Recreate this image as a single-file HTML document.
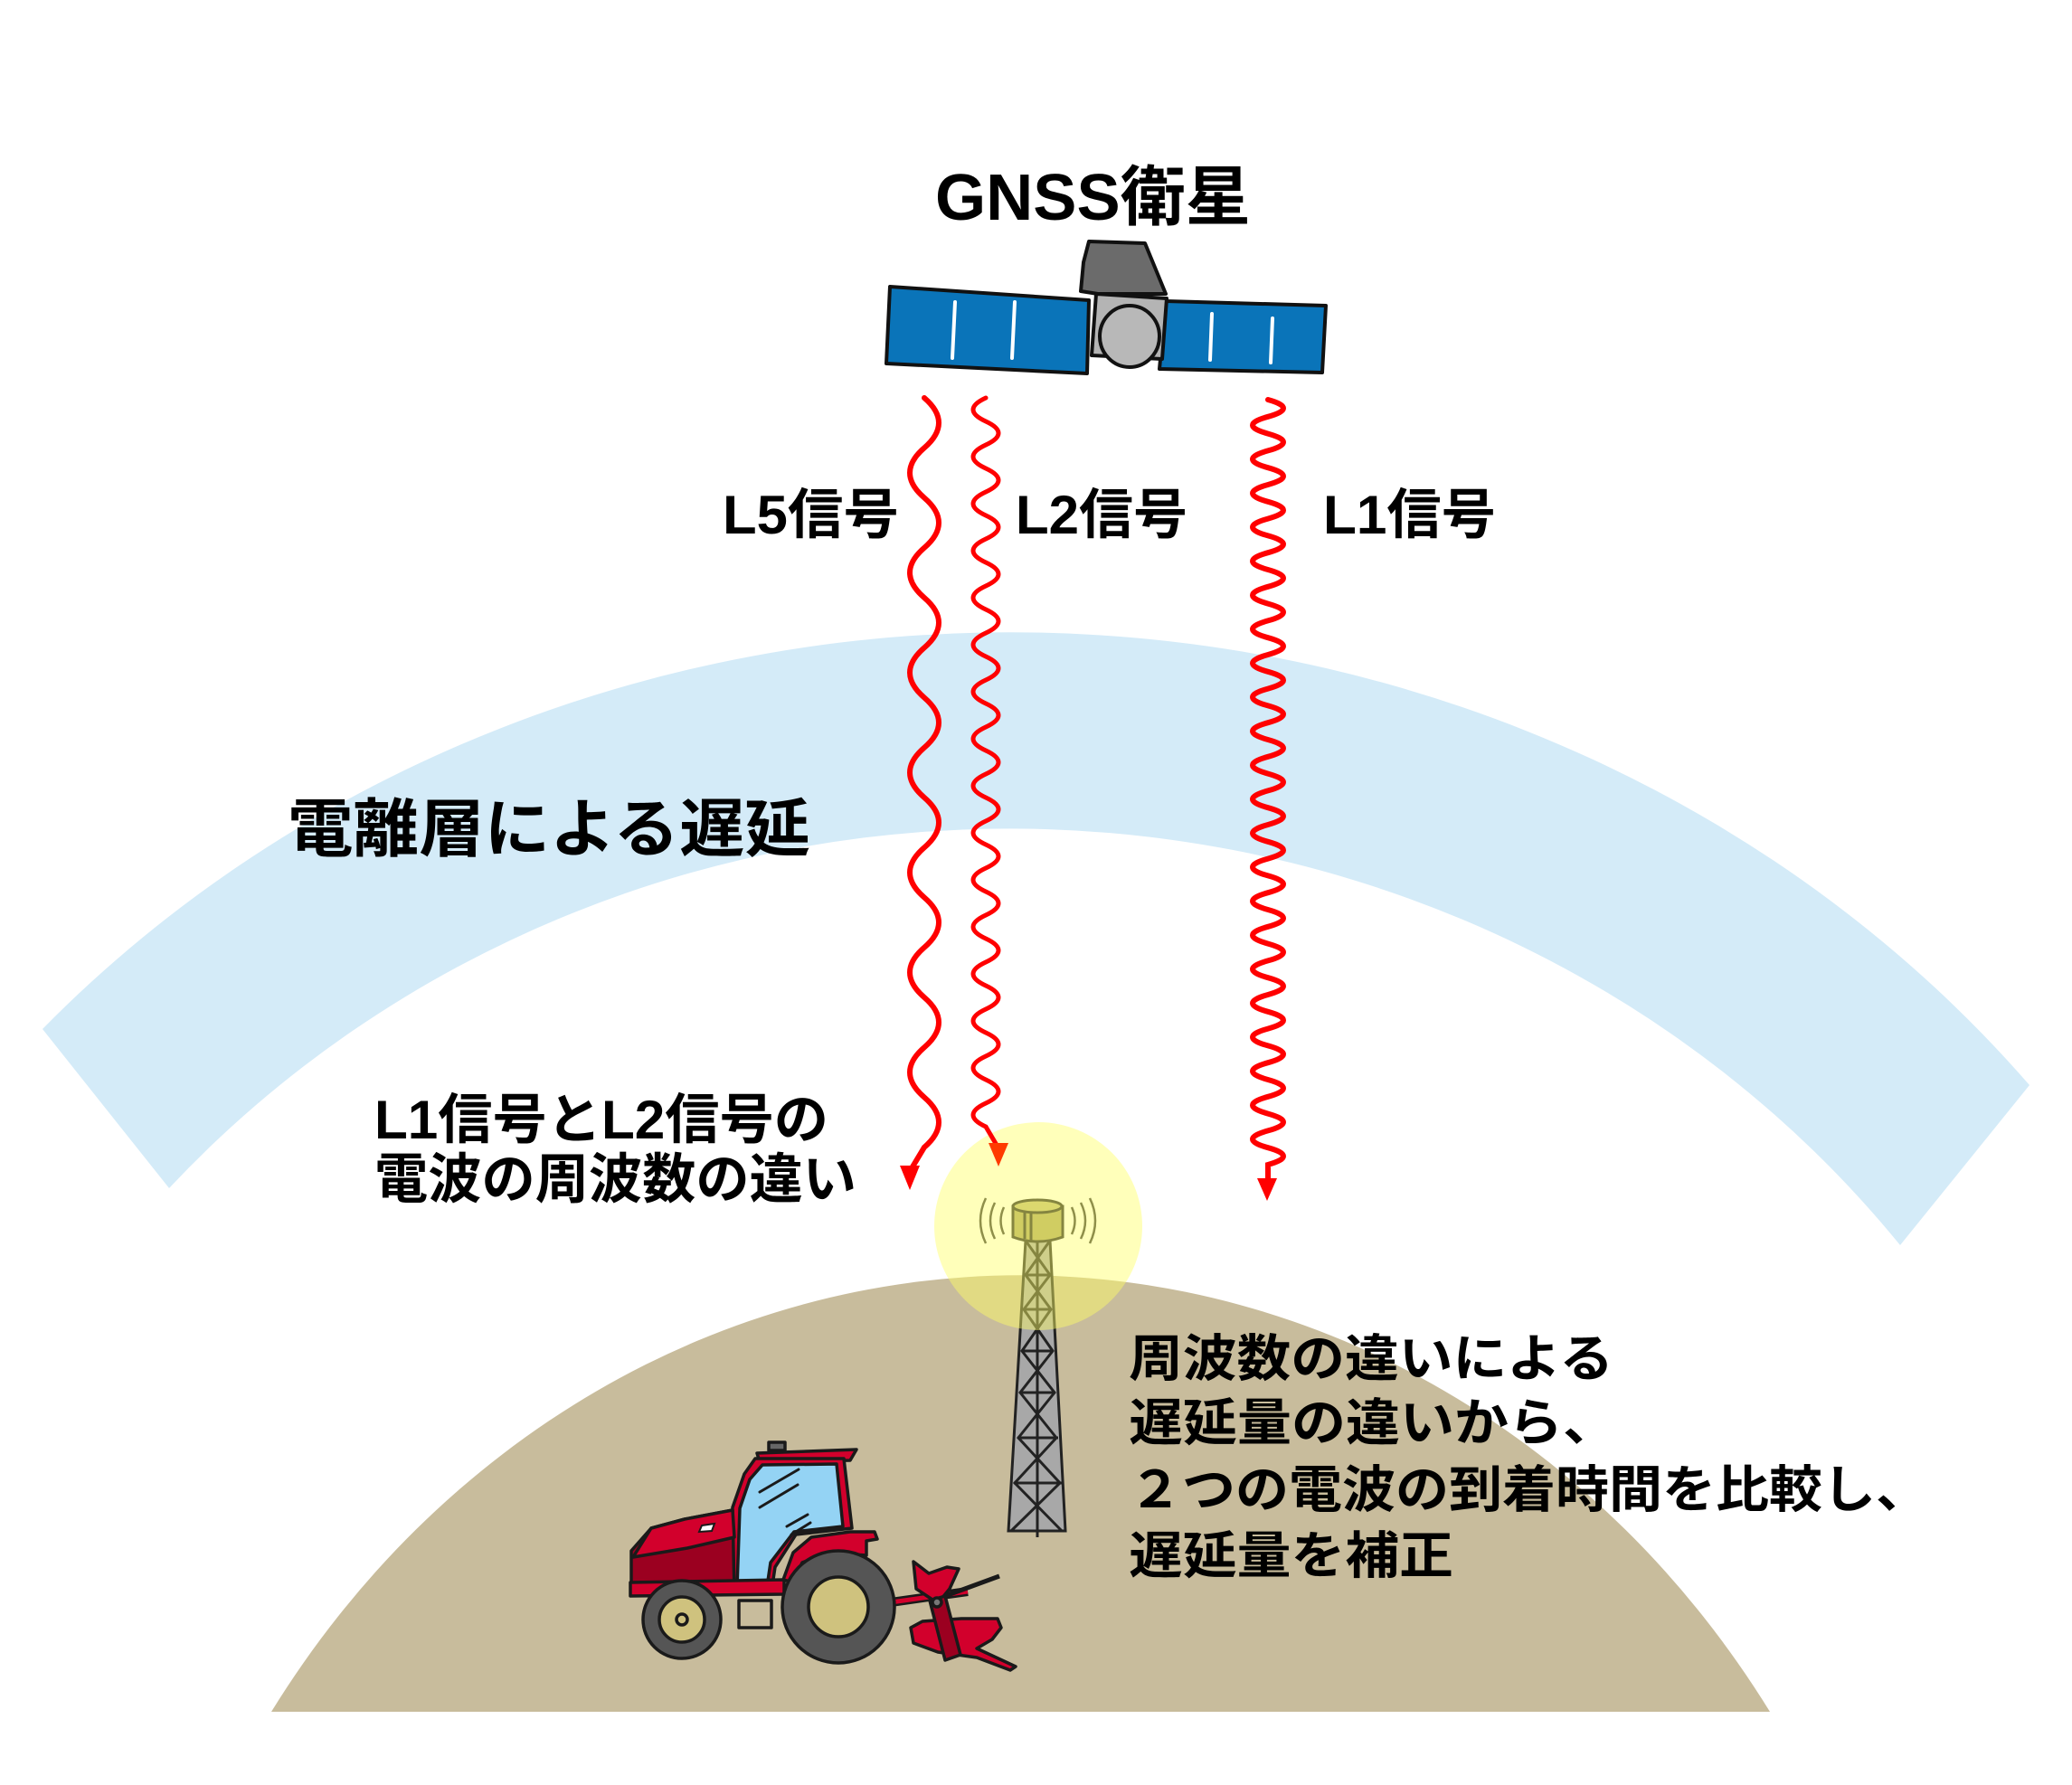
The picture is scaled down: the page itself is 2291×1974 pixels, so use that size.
<!DOCTYPE html>
<html><head><meta charset="utf-8"><style>
html,body{margin:0;padding:0;background:#fff;}
svg{display:block;}
text{font-family:"Liberation Sans","Noto Sans CJK JP",sans-serif;font-weight:bold;fill:#000;}
</style></head><body>
<svg width="2291" height="1974" viewBox="0 0 2291 1974" xmlns="http://www.w3.org/2000/svg">
<rect width="2291" height="1974" fill="#fff"/>
<!-- ionosphere band -->
<path d="M47 1138 A1450 1350 0 0 1 2244 1200 L2101 1377 A1250 1200 0 0 0 187 1314 Z" fill="#d4ebf8"/>
<!-- ground -->
<path d="M300 1893 A1000 1097 0 0 1 1957 1893 Z" fill="#c8bc9c"/>

<!-- tower -->
<g stroke="#222" stroke-width="3">
<polygon points="1134,1372 1161,1372 1178,1693 1115,1693" fill="#a8a8a8"/>
<line x1="1147" y1="1372" x2="1147" y2="1700"/>
<g fill="none">
<path d="M1134 1372 L1161 1410 L1132 1448 L1164 1494 L1128 1540 L1168 1590 L1122 1640 L1174 1693"/>
<path d="M1161 1372 L1134 1410 L1162 1448 L1130 1494 L1166 1540 L1126 1590 L1172 1640 L1118 1693"/>
<path d="M1134 1410 H1161 M1132 1448 H1162 M1130 1494 H1164 M1128 1540 H1167 M1125 1590 H1170 M1121 1640 H1174"/>
</g>
<path d="M1120 1334 L1120 1368 Q1147 1378 1175 1368 L1175 1334 Z" fill="#a9a560"/>
<ellipse cx="1147" cy="1334" rx="27" ry="7" fill="#bdb975"/>
<line x1="1133" y1="1340" x2="1133" y2="1370"/><line x1="1140" y1="1342" x2="1140" y2="1372"/>
</g>
<g fill="none" stroke="#333" stroke-width="2.5">
<path d="M1110 1335 Q1103 1350 1110 1365"/><path d="M1100 1330 Q1090 1350 1100 1370"/><path d="M1090 1325 Q1078 1350 1090 1375"/>
<path d="M1185 1335 Q1192 1350 1185 1365"/><path d="M1195 1330 Q1205 1350 1195 1370"/><path d="M1205 1325 Q1217 1350 1205 1375"/>
</g>
<!-- yellow glow -->
<circle cx="1148" cy="1356" r="115" fill="#ffff66" opacity="0.45"/>

<!-- satellite -->
<g stroke="#111" stroke-width="4" stroke-linejoin="round">
<polygon points="984,317 1204,332 1202,413 980,402" fill="#0a74b9"/>
<polygon points="1289,333 1466,338 1462,412 1282,408" fill="#0a74b9"/>
<polygon points="1204,267 1266,269 1289,325 1214,325 1195,322 1198,290" fill="#6b6b6b"/>
<polygon points="1212,325 1290,330 1285,397 1207,393" fill="#b4b4b4"/>
<ellipse cx="1249" cy="372" rx="33" ry="34" fill="#b8b8b8"/>
</g>
<g stroke="#fff" stroke-width="4" stroke-linecap="round">
<line x1="1056" y1="334" x2="1053" y2="396"/><line x1="1122" y1="334" x2="1119" y2="396"/>
<line x1="1340" y1="347" x2="1338" y2="398"/><line x1="1407" y1="352" x2="1405" y2="401"/>
</g>

<!-- waves -->
<g fill="none" stroke="#f00" stroke-linecap="round">
<path stroke-width="6" d="M1022 440 q32 27.6 0 55.25 t0 55.25 t0 55.25 t0 55.25 t0 55.25 t0 55.25 t0 55.25 t0 55.25 t0 55.25 t0 55.25 t0 55.25 t0 55.25 t0 55.25 t0 55.25 t0 55.25 L1008 1292"/>
<path stroke-width="5" d="M1090 440 q-28 13 0 26 t0 26 t0 26 t0 26 t0 26 t0 26 t0 26 t0 26 t0 26 t0 26 t0 26 t0 26 t0 26 t0 26 t0 26 t0 26 t0 26 t0 26 t0 26 t0 26 t0 26 t0 26 t0 26 t0 26 t0 26 t0 26 t0 26 t0 26 t0 26 t0 26 t0 26 L1103 1268"/>
<path stroke-width="6" d="M1402 442 q34 9.4 0 18.8 t0 18.8 t0 18.8 t0 18.8 t0 18.8 t0 18.8 t0 18.8 t0 18.8 t0 18.8 t0 18.8 t0 18.8 t0 18.8 t0 18.8 t0 18.8 t0 18.8 t0 18.8 t0 18.8 t0 18.8 t0 18.8 t0 18.8 t0 18.8 t0 18.8 t0 18.8 t0 18.8 t0 18.8 t0 18.8 t0 18.8 t0 18.8 t0 18.8 t0 18.8 t0 18.8 t0 18.8 t0 18.8 t0 18.8 t0 18.8 t0 18.8 t0 18.8 t0 18.8 t0 18.8 t0 18.8 t0 18.8 t0 18.8 t0 18.8 t0 18.8 t0 18.8 L1402 1305"/>
</g>
<polygon points="995,1289 1017,1289 1006,1316" fill="#f00"/>
<polygon points="1093,1264 1115,1264 1104,1290" fill="#ff3a00"/>
<polygon points="1390,1303 1412,1303 1401,1328" fill="#f00"/>

<!-- tractor -->
<g stroke="#1a1a1a" stroke-width="3.5" stroke-linejoin="round">
<line x1="985" y1="1772" x2="1070" y2="1760" stroke-width="10"/>
<line x1="985" y1="1772" x2="1070" y2="1760" stroke="#d2002c" stroke-width="5"/>
<line x1="1045" y1="1765" x2="1105" y2="1743" stroke-width="5"/>
<polygon points="1010,1727 1027,1740 1047,1733 1060,1735 1050,1757 1037,1773 1013,1757" fill="#d2002c"/>
<polygon points="1007,1800 1020,1793 1063,1790 1103,1790 1107,1800 1097,1813 1080,1823 1123,1843 1117,1847 1080,1833 1037,1827 1010,1817" fill="#d2002c"/>
<polygon points="1028,1770 1045,1765 1062,1830 1045,1836" fill="#9b0020"/>
<circle cx="1036" cy="1772" r="5" fill="#777"/>
<polygon points="837,1607 947,1603 940,1615 840,1617" fill="#d2002c"/>
<rect x="850" y="1595" width="18" height="9" fill="#666"/>
<polygon points="835,1613 933,1613 942,1690 880,1697 857,1733 853,1760 805,1760 810,1667 823,1630" fill="#d2002c"/>
<polygon points="843,1620 925,1619 932,1688 878,1694 852,1728 848,1755 815,1755 818,1668 829,1636" fill="#94d3f4"/>
<polygon points="698,1715 720,1690 757,1680 810,1670 812,1760 698,1763" fill="#9b0020"/>
<polygon points="720,1690 757,1680 810,1670 812,1700 760,1712 700,1722" fill="#d2002c"/>
<polygon points="697,1750 867,1747 867,1763 697,1765" fill="#d2002c"/>
<polygon points="866,1747 877,1717 897,1700 940,1694 967,1694 970,1702 958,1704 958,1720 915,1717 887,1728 877,1750" fill="#d2002c"/>
<rect x="817" y="1770" width="36" height="30" fill="none"/>
<circle cx="927" cy="1777" r="62" fill="#555"/>
<circle cx="927" cy="1777" r="33" fill="#cfc27e"/>
<circle cx="754" cy="1791" r="43" fill="#555"/>
<circle cx="754" cy="1791" r="25" fill="#cfc27e"/>
<circle cx="754" cy="1791" r="6" fill="none"/>
</g>
<g stroke="#1a1a1a" stroke-width="3" stroke-linecap="round">
<line x1="840" y1="1650" x2="883" y2="1625"/><line x1="840" y1="1667" x2="882" y2="1642"/>
<line x1="870" y1="1688" x2="893" y2="1675"/><line x1="875" y1="1697" x2="896" y2="1684"/>
</g>
<polygon points="776,1687 790,1685 787,1693 773,1694" fill="#fff" stroke="#1a1a1a" stroke-width="2"/>

<!-- texts -->
<text x="1034" y="243" font-size="72" textLength="349" lengthAdjust="spacingAndGlyphs">GNSS衛星</text>
<text x="799" y="590" font-size="60" textLength="195" lengthAdjust="spacingAndGlyphs">L5信号</text>
<text x="1123" y="590" font-size="60" textLength="190" lengthAdjust="spacingAndGlyphs">L2信号</text>
<text x="1463" y="590" font-size="60" textLength="191" lengthAdjust="spacingAndGlyphs">L1信号</text>
<text x="318" y="941" font-size="70" textLength="578" lengthAdjust="spacingAndGlyphs">電離層による遅延</text>
<text x="414" y="1259" font-size="60" textLength="502" lengthAdjust="spacingAndGlyphs">L1信号とL2信号の</text>
<text x="414" y="1325" font-size="60" textLength="533" lengthAdjust="spacingAndGlyphs">電波の周波数の違い</text>
<text x="1248" y="1522" font-size="56" textLength="536" lengthAdjust="spacingAndGlyphs">周波数の違いによる</text>
<text x="1248" y="1593" font-size="56" textLength="540" lengthAdjust="spacingAndGlyphs">遅延量の違いから、</text>
<text x="1248" y="1667" font-size="56" textLength="885" lengthAdjust="spacingAndGlyphs">２つの電波の到着時間を比較し、</text>
<text x="1248" y="1740" font-size="56" textLength="359" lengthAdjust="spacingAndGlyphs">遅延量を補正</text>
</svg>
</body></html>
